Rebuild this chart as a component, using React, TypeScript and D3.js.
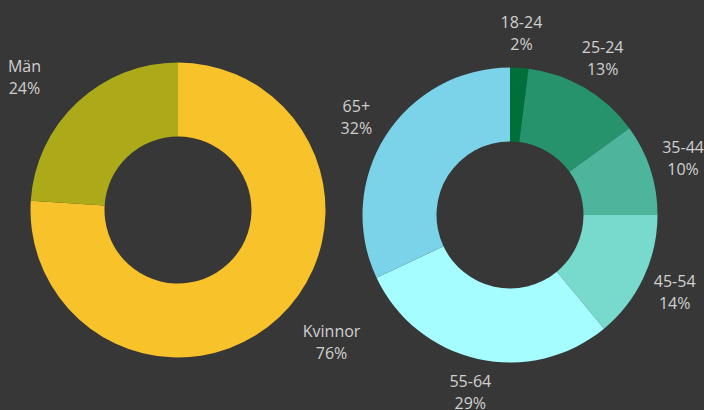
import React from "react";
import * as d3 from "d3";

const genderLabels = ["Kvinnor", "Män"];
const genderValues = [76, 24];
const genderColors = ["#F8C22A", "#ADAA1A"];

const ageLabels = ["18-24", "25-24", "35-44", "45-54", "55-64", "65+"];
const ageValues = [2, 13, 10, 14, 29, 32];
const ageColors = ["#006F3A", "#26936C", "#4DB59C", "#78DACC", "#A6FDFF", "#7AD3E8"];

const W = 704;
const H = 410;
const R_OUT = 147.5;
const R_IN = 73.5;
const LABEL_R = 182;

type DonutProps = {
  cx: number;
  cy: number;
  labels: string[];
  values: number[];
  colors: string[];
  xShift: number;
};

function Donut({ cx, cy, labels, values, colors, xShift }: DonutProps) {
  const pie = d3.pie<number>().sort(null).value((d) => d);
  const arcs = pie(values);
  const arc = d3.arc<d3.PieArcDatum<number>>().innerRadius(R_IN).outerRadius(R_OUT);
  const total = d3.sum(values);
  return (
    <g transform={`translate(${cx},${cy})`}>
      {arcs.map((a, i) => (
        <path key={i} d={arc(a) || ""} fill={colors[i]} />
      ))}
      {arcs.map((a, i) => {
        const mid = (a.startAngle + a.endAngle) / 2;
        const s = Math.sin(mid);
        const x = s * LABEL_R + Math.sign(s) * xShift;
        const y = -Math.cos(mid) * LABEL_R;
        const pct = Math.round((values[i] / total) * 100);
        return (
          <text
            key={"t" + i}
            x={x}
            y={y - 5.3}
            textAnchor="middle"
            fill="#d0d0d0"
            fontFamily="'Open Sans', sans-serif"
            fontSize={16}
          >
            <tspan x={x}>{labels[i]}</tspan>
            <tspan x={x} dy={22}>{pct}%</tspan>
          </text>
        );
      })}
    </g>
  );
}

export default function App() {
  return (
    <svg
      width={W}
      height={H}
      style={{ position: "absolute", left: 0, top: 0, display: "block" }}
    >
      <rect x={0} y={0} width={W} height={H} fill="#373737" />
      <Donut cx={178} cy={210} labels={genderLabels} values={genderValues} colors={genderColors} xShift={29} />
      <Donut cx={510} cy={215} labels={ageLabels} values={ageValues} colors={ageColors} xShift={0} />
    </svg>
  );
}
